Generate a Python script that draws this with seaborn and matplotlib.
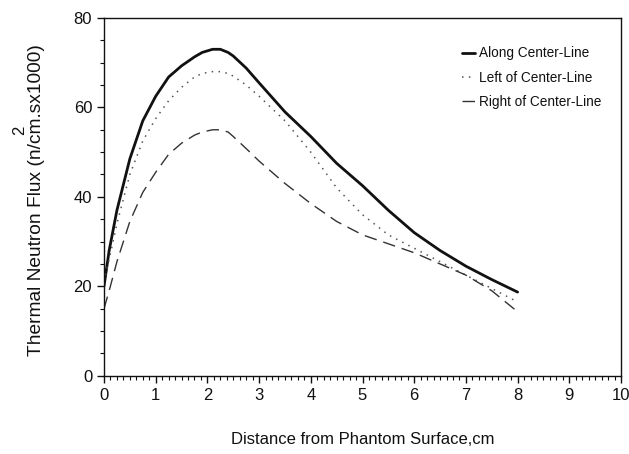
import matplotlib
matplotlib.use("Agg")
import matplotlib.pyplot as plt
import seaborn as sns
import numpy as np
from matplotlib.ticker import MultipleLocator

sns.set_style("ticks")
plt.rcParams['font.family'] = ['Liberation Sans', 'DejaVu Sans']

distance = [0, 0.1, 0.25, 0.5, 0.75, 1, 1.25, 1.5, 1.75, 1.9, 2.1, 2.25, 2.4, 2.5, 2.75, 3, 3.5, 4, 4.5, 5, 5.5, 6, 6.5, 7, 7.5, 8]
along = [20, 28, 37, 48.5, 57, 62.5, 66.8, 69.3, 71.3, 72.3, 73.0, 73, 72.3, 71.5, 68.8, 65.5, 59, 53.5, 47.5, 42.5, 37, 32, 28, 24.5, 21.5, 18.7]
left = [21, 26, 34, 45, 52.5, 57.5, 61.5, 64.5, 66.8, 67.6, 68.0, 68, 67.6, 67, 65, 62.5, 57, 50, 42, 36, 31.5, 28.5, 25.5, 22.5, 19.5, 16.5]
right = [15, 19, 25.5, 34.5, 41, 45.5, 49.5, 52, 53.8, 54.5, 55.0, 55, 54.5, 53.5, 50.8, 48, 43, 38.5, 34.5, 31.5, 29.5, 27.5, 25, 22.5, 19, 14.3]
series_names = ["Along Center-Line", "Left of Center-Line", "Right of Center-Line"]
x_ticks = [0, 1, 2, 3, 4, 5, 6, 7, 8, 9, 10]
y_ticks = [0, 20, 40, 60, 80]

fig = plt.figure(figsize=(6.29, 4.54), dpi=100)
ax = fig.add_axes([104/629, 1-375.7/454, (621-104)/629, (375.7-18)/454])

sns.lineplot(x=distance, y=along, ax=ax, color="#111111", lw=2.0, label=series_names[0])
sns.lineplot(x=distance, y=left, ax=ax, color="#555555", lw=1.1, label=series_names[1], linestyle=(0, (1, 3.5)))
sns.lineplot(x=distance, y=right, ax=ax, color="#333333", lw=1.0, label=series_names[2], linestyle=(0, (9, 5)))

ax.set_xlim(0, 10)
ax.set_ylim(0, 80)
ax.set_xticks(x_ticks)
ax.set_yticks(y_ticks)
ax.xaxis.set_minor_locator(MultipleLocator(0.125))
ax.yaxis.set_minor_locator(MultipleLocator(5))
ax.tick_params(axis='both', which='major', direction='out', length=5, width=1, labelsize=12, colors='#111111')
ax.tick_params(axis='both', which='minor', direction='out', length=3, width=0.8, colors='#111111')
for s in ax.spines.values():
    s.set_linewidth(1.0)
    s.set_color('#111111')

ax.set_xlabel("Distance from Phantom Surface,cm", fontsize=12, color='#111111')
ax.xaxis.set_label_coords(0.5, -0.158)
ax.set_ylabel("Thermal Neutron Flux (n/cm.sx1000)", fontsize=13.8, color='#111111')
ax.yaxis.set_label_coords(-0.115, 0.49)
fig.text(20/629, 1-130/454, "2", rotation=90, fontsize=12, ha='center', va='center', color='#111111')

leg = ax.legend(loc='upper right', frameon=False, fontsize=9.8, handlelength=0.9,
                handletextpad=0.3, labelspacing=0.75, bbox_to_anchor=(0.985, 0.955))
for t in leg.get_texts():
    t.set_color('#111111')

fig.savefig("out.png", dpi=100)
